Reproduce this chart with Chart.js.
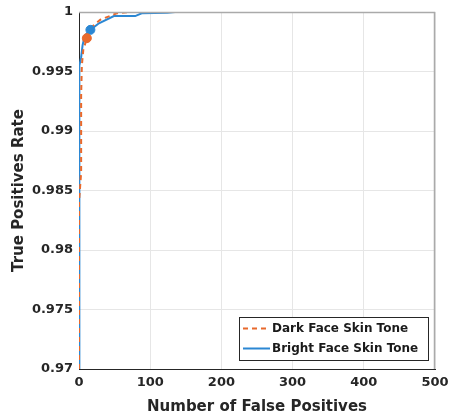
<!DOCTYPE html>
<html>
<head>
<meta charset="utf-8">
<script src="https://cdn.jsdelivr.net/npm/chart.js@4/dist/chart.umd.min.js"></script>
<style>
  html, body { margin: 0; padding: 0; background: #fff; }
</style>
</head>
<body>
<canvas id="chart" width="451" height="418"></canvas>
<script>
// curve values
const darkX = [0, 0, 3, 3, 4, 6, 11, 17, 30, 53, 73, 500];
const darkY = [0.97, 0.984, 0.9865, 0.993, 0.9955, 0.9968, 0.9978, 0.9987, 0.99935, 0.99989, 1, 1];
const brightX = [0, 0, 1, 3, 5, 8, 16, 28, 49, 79, 88, 124, 135, 500];
const brightY = [0.97, 0.9935, 0.9955, 0.9962, 0.9972, 0.998, 0.9985, 0.99905, 0.99966, 0.99966, 0.99989, 0.99994, 1, 1];
const darkPoint = { x: 11, y: 0.9978 };
const brightPoint = { x: 16, y: 0.9985 };
const xTicks = [0, 100, 200, 300, 400, 500];
const yTicks = [0.97, 0.975, 0.98, 0.985, 0.99, 0.995, 1];
const labels = ['Dark Face Skin Tone', 'Bright Face Skin Tone'];

const orange = '#e8692c';
const blue = '#2b87d3';
const font = '"DejaVu Sans", sans-serif';

function toPoints(xs, ys) {
    return xs.map((x, i) => ({ x: x, y: ys[i] }));
}

// legend box inside the plot + frame round the plot
const boxPlugin = {
    id: 'boxPlugin',
    afterDraw(chart) {
        const ctx = chart.ctx;
        const a = chart.chartArea;
        ctx.save();
        ctx.lineWidth = 1.5;
        ctx.beginPath();
        ctx.moveTo(a.left, a.top + 0.5);
        ctx.lineTo(a.right - 0.5, a.top + 0.5);
        ctx.lineTo(a.right - 0.5, a.bottom);
        ctx.strokeStyle = '#aaaaaa';
        ctx.stroke();

        const lx = 239, ly = 317, lw = 189, lh = 43;
        ctx.fillStyle = '#fff';
        ctx.fillRect(lx, ly, lw, lh);
        ctx.lineWidth = 1;
        ctx.strokeStyle = '#262626';
        ctx.strokeRect(lx + 0.5, ly + 0.5, lw, lh);
        ctx.font = 'bold 12px ' + font;
        ctx.textBaseline = 'middle';
        const rows = [chart.data.datasets[0], chart.data.datasets[1]];
        rows.forEach((ds, i) => {
            const yy = ly + 11.5 + i * 20;
            ctx.strokeStyle = ds.borderColor;
            ctx.lineWidth = 2;
            ctx.setLineDash(ds.borderDash || []);
            ctx.beginPath();
            ctx.moveTo(lx + 4, yy);
            ctx.lineTo(lx + 31, yy);
            ctx.stroke();
            ctx.setLineDash([]);
            ctx.fillStyle = '#1a1a1a';
            ctx.fillText(ds.label, lx + 33, yy + 0.5);
        });
        ctx.restore();
    }
};

new Chart(document.getElementById('chart'), {
    type: 'scatter',
    data: {
        datasets: [{
            label: labels[0],
            data: toPoints(darkX, darkY),
            showLine: true,
            borderColor: orange,
            borderWidth: 2,
            borderDash: [5, 4],
            pointRadius: 0,
            order: 2
        }, {
            label: labels[1],
            data: toPoints(brightX, brightY),
            showLine: true,
            borderColor: blue,
            borderWidth: 2,
            pointRadius: 0,
            order: 3
        }, {
            label: 'dark point',
            data: [darkPoint],
            backgroundColor: orange,
            borderColor: orange,
            pointRadius: 4.5,
            order: 0
        }, {
            label: 'bright point',
            data: [brightPoint],
            backgroundColor: blue,
            borderColor: blue,
            pointRadius: 4.5,
            order: 1
        }]
    },
    options: {
        responsive: false,
        animation: false,
        layout: { padding: { top: 12, right: 16, left: 0, bottom: 0 } },
        plugins: {
            legend: { display: false },
            tooltip: { enabled: false }
        },
        scales: {
            x: {
                type: 'linear',
                min: 0,
                max: 500,
                afterBuildTicks: axis => { axis.ticks = xTicks.map(v => ({ value: v })); },
                afterFit: axis => {
                    axis.height = 49;
                    axis.paddingLeft = 0;
                    axis.paddingRight = 0;
                },
                grid: { color: '#e6e6e6', drawTicks: false },
                border: { color: '#262626' },
                ticks: { color: '#262626', font: { family: font, size: 13, weight: 'bold' }, padding: 6 },
                title: { display: true, text: 'Number of False Positives', color: '#262626',
                    font: { family: font, size: 15, weight: 'bold' }, padding: { top: 2, bottom: 2 } }
            },
            y: {
                type: 'linear',
                min: 0.97,
                max: 1,
                afterBuildTicks: axis => { axis.ticks = yTicks.map(v => ({ value: v })); },
                afterFit: axis => {
                    axis.width = 79;
                    axis.paddingTop = 0;
                    axis.paddingBottom = 0;
                },
                grid: { color: '#e6e6e6', drawTicks: false },
                border: { color: '#262626' },
                ticks: { color: '#262626', font: { family: font, size: 13, weight: 'bold' }, padding: 6,
                    callback: v => String(+v.toFixed(3)) },
                title: { display: true, text: 'True Positives Rate', color: '#262626',
                    font: { family: font, size: 15, weight: 'bold' }, padding: { top: 10, bottom: 10 } }
            }
        }
    },
    plugins: [boxPlugin]
});
</script>
</body>
</html>
